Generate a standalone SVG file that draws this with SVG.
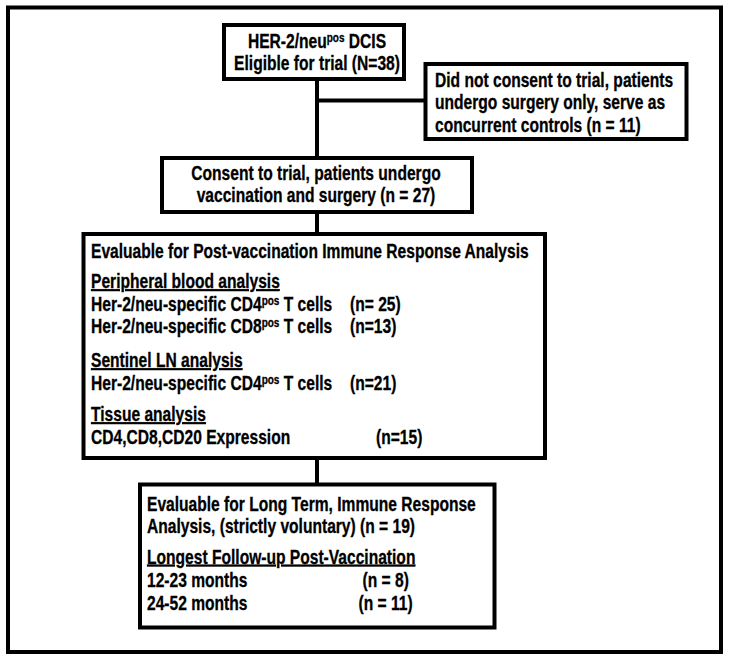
<svg xmlns="http://www.w3.org/2000/svg" width="729" height="661" viewBox="0 0 729 661">
<style>
.box{fill:#fff;stroke:#000;stroke-width:4}
.frame{fill:none;stroke:#000;stroke-width:4}
.ln{fill:none;stroke:#000;stroke-width:4}
.t{font-family:"Liberation Sans",Arial,Helvetica,sans-serif;font-weight:700;font-size:19.5px;fill:#000;stroke:#000;stroke-width:0.3}
.c{text-anchor:middle}
.u{text-decoration:underline}
.sup{font-size:12.5px}
</style>
<rect width="729" height="661" fill="#fff"/>
<rect class="frame" x="8" y="7.5" width="713" height="644.5"/>
<g id="connectors">
<path class="ln" d="M317,79 V158 M317,100.5 H425.5 M317,212 V234 M317,458 V484.5"/>
</g>
<g id="node-eligible">
<rect class="box" x="224" y="25" width="180" height="54"/>
<text class="t c" transform="translate(317,48) scale(0.8,1)">HER-2/neu<tspan class="sup" dy="-6.5">pos</tspan><tspan dy="6.5"> DCIS</tspan></text>
<text class="t c" transform="translate(317,70) scale(0.8,1)">Eligible for trial (N=38)</text>
</g>
<g id="node-no-consent">
<rect class="box" x="425.5" y="64" width="261" height="75"/>
<text class="t" transform="translate(435,86.5) scale(0.8,1)">Did not consent to trial, patients</text>
<text class="t" transform="translate(435,109) scale(0.8,1)">undergo surgery only, serve as</text>
<text class="t" transform="translate(435,131.5) scale(0.8,1)">concurrent controls (n = 11)</text>
</g>
<g id="node-consent">
<rect class="box" x="162" y="158" width="310" height="54"/>
<text class="t c" transform="translate(316,180) scale(0.8,1)">Consent to trial, patients undergo</text>
<text class="t c" transform="translate(316,202) scale(0.8,1)">vaccination and surgery (n = 27)</text>
</g>
<g id="node-evaluable">
<rect class="box" x="83.5" y="234" width="461.5" height="224"/>
<text class="t" transform="translate(91,258) scale(0.8,1)">Evaluable for Post-vaccination Immune Response Analysis</text>
<text class="t u" transform="translate(91,288) scale(0.8,1)">Peripheral blood analysis</text>
<text class="t" transform="translate(91,311) scale(0.8,1)">Her-2/neu-specific CD4<tspan class="sup" dy="-6.5">pos</tspan><tspan dy="6.5"> T cells</tspan></text>
<text class="t" transform="translate(350,311) scale(0.8,1)">(n= 25)</text>
<text class="t" transform="translate(91,333) scale(0.8,1)">Her-2/neu-specific CD8<tspan class="sup" dy="-6.5">pos</tspan><tspan dy="6.5"> T cells</tspan></text>
<text class="t" transform="translate(350,333) scale(0.8,1)">(n=13)</text>
<text class="t u" transform="translate(91,367) scale(0.8,1)">Sentinel LN analysis</text>
<text class="t" transform="translate(91,390) scale(0.8,1)">Her-2/neu-specific CD4<tspan class="sup" dy="-6.5">pos</tspan><tspan dy="6.5"> T cells</tspan></text>
<text class="t" transform="translate(350,390) scale(0.8,1)">(n=21)</text>
<text class="t u" transform="translate(91,421) scale(0.8,1)">Tissue analysis</text>
<text class="t" transform="translate(91,444) scale(0.8,1)">CD4,CD8,CD20 Expression</text>
<text class="t" transform="translate(376,444) scale(0.8,1)">(n=15)</text>
</g>
<g id="node-longterm">
<rect class="box" x="140" y="484.5" width="354.5" height="143"/>
<text class="t" transform="translate(147,510.5) scale(0.8,1)">Evaluable for Long Term, Immune Response</text>
<text class="t" transform="translate(147,532.5) scale(0.8,1)">Analysis, (strictly voluntary) (n = 19)</text>
<text class="t u" transform="translate(147,563.5) scale(0.8,1)">Longest Follow-up Post-Vaccination</text>
<text class="t" transform="translate(147,586.5) scale(0.8,1)">12-23 months</text>
<text class="t" transform="translate(362.5,586.5) scale(0.8,1)">(n = 8)</text>
<text class="t" transform="translate(147,610) scale(0.8,1)">24-52 months</text>
<text class="t" transform="translate(358.5,610) scale(0.8,1)">(n = 11)</text>
</g>
</svg>
